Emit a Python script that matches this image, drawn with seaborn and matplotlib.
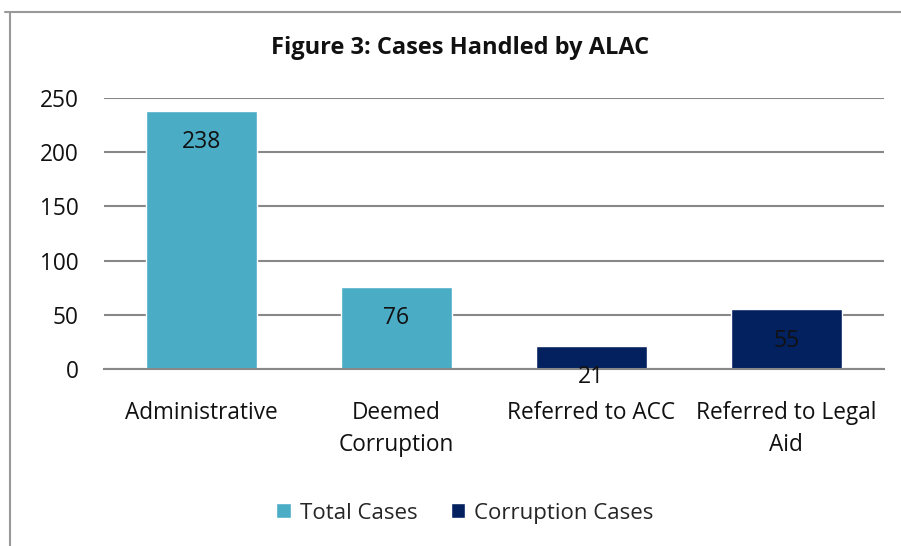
import matplotlib
matplotlib.use("Agg")
import matplotlib.pyplot as plt
from matplotlib.lines import Line2D
import seaborn as sns
import pandas as pd

# Chart data.
categories = ["Administrative", "Deemed\nCorruption", "Referred to ACC", "Referred to Legal\nAid"]
values = [238, 76, 21, 55]
series = ["Total Cases", "Total Cases", "Corruption Cases", "Corruption Cases"]
y_ticks = [0, 50, 100, 150, 200, 250]
colours = {"Total Cases": "#4BACC6", "Corruption Cases": "#03215F"}

sns.set_style("white")
plt.rcParams['font.family'] = ['Open Sans', 'DejaVu Sans']

df = pd.DataFrame({"category": categories, "value": values, "series": series})

fig = plt.figure(figsize=(9.01, 5.46), dpi=100)
ax = fig.add_axes([0.1154, 0.3242, 0.981 - 0.1154, 0.8205 - 0.3242])

sns.barplot(data=df, x="category", y="value", hue="series", dodge=False,
            palette=colours, width=0.57, saturation=1, ax=ax)

# Value labels sit just inside the top of each bar, like Excel's "inside end".
for i, v in enumerate(values):
    ax.annotate(str(v), xy=(i, v), xytext=(0, -22.5), textcoords="offset points",
                ha="center", va="center", fontsize=16.5, color="#111111")

ax.set_ylim(0, 250)
ax.set_yticks(y_ticks)
ax.yaxis.grid(True, color="#888888", linewidth=1.5)
ax.set_axisbelow(True)
for side in ["left", "right", "top"]:
    ax.spines[side].set_visible(False)
ax.spines["bottom"].set_color("#888888")
ax.spines["bottom"].set_linewidth(1.5)
ax.tick_params(axis="both", length=0, labelsize=16.3, colors="#111111")
ax.tick_params(axis="y", pad=18.5)
ax.tick_params(axis="x", pad=23)
for lbl in ax.get_xticklabels():
    lbl.set_linespacing(1.45)
ax.set_xlabel("")
ax.set_ylabel("")

fig.text(0.511, 0.913, "Figure 3: Cases Handled by ALAC", ha="center", va="center",
         fontsize=17, fontweight="bold", color="#111111")

ax.legend(loc="center", bbox_to_anchor=(0.516, 0.0604), bbox_transform=fig.transFigure,
          ncol=2, frameon=False, fontsize=16, handlelength=0.65, handleheight=0.65,
          handletextpad=0.4, columnspacing=1.5)

# Chart-area border (only the top and left edges are visible in the crop).
fig.add_artist(Line2D([0.006, 1.0], [1 - 12 / 546, 1 - 12 / 546], color="#999999", linewidth=1.5))
fig.add_artist(Line2D([10 / 901, 10 / 901], [0, 1 - 12 / 546], color="#999999", linewidth=1.5))

fig.savefig("out.png", dpi=100)
